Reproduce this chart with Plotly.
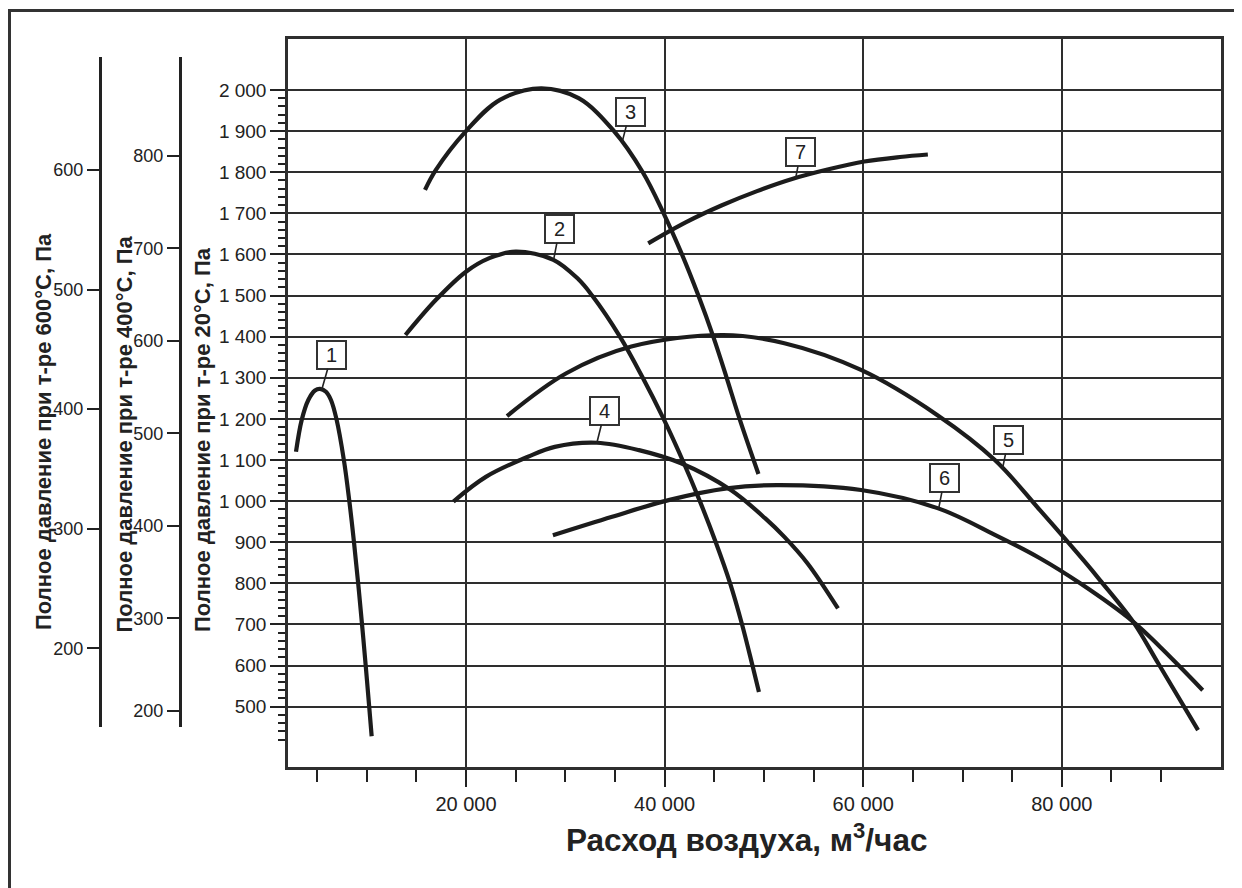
import numpy as np
import plotly.graph_objects as go

# ---------------- data ----------------
curve_names = ["1", "2", "3", "4", "5", "6", "7"]

x1 = [2880, 3450, 4120, 4790, 5300, 5900, 6400, 6950, 7700, 8250, 8720, 9140, 9530, 9900, 10250, 10500]
y1 = [1120, 1197, 1246, 1269, 1273, 1266, 1246, 1200, 1100, 1000, 900, 800, 700, 600, 500, 428]

x2 = [13900, 16950, 20000, 22350, 25000, 28800, 31300, 32700, 35500, 37800, 39900, 41800, 43550, 45150, 46600, 47800, 48850, 49500]
y2 = [1404, 1489, 1558, 1591, 1607, 1587, 1540, 1500, 1400, 1300, 1200, 1100, 1000, 900, 800, 700, 600, 536]

x3 = [15870, 16950, 20000, 23420, 27550, 31340, 34900, 37800, 39900, 41750, 43400, 44900, 46250, 47550, 49450]
y3 = [1757, 1805, 1900, 1976, 2004, 1980, 1900, 1800, 1700, 1600, 1500, 1400, 1300, 1200, 1066]

x4 = [18730, 22000, 26240, 28940, 33180, 37420, 41660, 46670, 50140, 52060, 54380, 57460]
y4 = [999, 1059, 1108, 1132, 1142, 1124, 1092, 1027, 958, 913, 849, 739]

x5 = [24130, 30100, 36650, 45900, 52060, 59780, 67480, 73260, 77800, 82330, 83840, 87170, 89720, 93720]
y5 = [1207, 1311, 1376, 1404, 1384, 1319, 1209, 1100, 978, 852, 808, 707, 605, 443]

x6 = [28750, 34720, 40500, 46280, 51300, 59780, 67480, 73260, 77800, 81850, 87170, 89880, 91900, 94190]
y6 = [917, 962, 1003, 1031, 1039, 1027, 983, 918, 861, 800, 707, 646, 597, 540]

x7 = [38350, 42120, 45720, 49310, 52920, 56510, 60110, 63700, 66510]
y7 = [1627, 1678, 1719, 1754, 1784, 1807, 1826, 1837, 1843]

curves_x = [x1, x2, x3, x4, x5, x6, x7]
curves_y = [y1, y2, y3, y4, y5, y6, y7]

# where the numbered label's leader line touches each curve (flow value)
label_x = [5470, 28820, 35710, 33180, 74030, 67600, 53200]
# box offset from that point, pixels
label_ax = [10, 6, 8, 8, 6, 6, 5]
label_ay = [-35, -31, -31, -32, -29, -31, -26]

# axes
x_range = [2074, 96032]
x_major = [20000, 40000, 60000, 80000]
x_minor = [v for v in range(5000, 95000, 5000) if v % 20000]
y_range = [353.3, 2124.0]
y_major = list(range(500, 2001, 100))
y_minor = [v for v in range(420, 2001, 20) if v % 100]
y400_range = [182.7, 907.4]
y400_ticks = [200, 300, 400, 500, 600, 700, 800]
y600_range = [134.4, 694.7]
y600_ticks = [200, 300, 400, 500, 600]

title_x = "Расход воздуха, м<sup>3</sup>/час"
title_20 = "Полное давление при т-ре 20°C, Па"
title_400 = "Полное давление при т-ре 400°C, Па"
title_600 = "Полное давление при т-ре 600°C, Па"


def fmt(v):
    return f"{v:,}".replace(",", " ")


# ---------------- figure ----------------
OFF = 8                      # page offset of the figure inside the browser window
W, H = 1234, 880
ML, MR, MT, MB = 12, 21, 31, 121
PW, PH = W - ML - MR, H - MT - MB


def px_x(p):                 # window pixel -> paper fraction
    return (p - OFF - ML) / PW


def px_y(p):
    return (H - MB - (p - OFF)) / PH


INK = "#222222"
LINE = "#2e2e2e"
FONT = "Liberation Sans, Arial, sans-serif"
NARROW = "Liberation Sans Narrow, Liberation Sans, Arial Narrow, sans-serif"

fig = go.Figure()

for xs, ys in zip(curves_x, curves_y):
    fig.add_trace(go.Scatter(
        x=xs, y=ys, mode="lines",
        line=dict(color="#1c1c1c", width=4.2, shape="spline", smoothing=1.0),
        showlegend=False, hoverinfo="skip",
    ))

# dummy traces to bring the auxiliary pressure scales to life
fig.add_trace(go.Scatter(x=[None], y=[None], xaxis="x2", yaxis="y2", showlegend=False, hoverinfo="skip"))
fig.add_trace(go.Scatter(x=[None], y=[None], xaxis="x3", yaxis="y3", showlegend=False, hoverinfo="skip"))

x_dom0 = px_x(288)
aux_dom = [px_y(726.7), px_y(56.7)]

fig.update_layout(
    width=W, height=H,
    margin=dict(l=ML, r=MR, t=MT, b=MB, autoexpand=False),
    paper_bgcolor="white",
    plot_bgcolor="rgba(0,0,0,0)",
    font=dict(family=FONT, color=INK),
    xaxis=dict(
        domain=[x_dom0, 1], range=x_range, anchor="y",
        tickmode="array", tickvals=x_major, ticktext=[fmt(v) for v in x_major],
        ticks="outside", ticklen=17, tickwidth=2, tickcolor=INK,
        tickfont=dict(size=20, family=FONT, color=INK),
        showgrid=True, gridcolor=LINE, gridwidth=2,
        showline=True, linecolor=LINE, linewidth=2.5, mirror=True,
        zeroline=False,
        minor=dict(tickmode="array", tickvals=x_minor, ticks="outside",
                   ticklen=12, tickwidth=2, tickcolor=INK, showgrid=False),
    ),
    yaxis=dict(
        domain=[0, 1], range=y_range, anchor="x",
        tickmode="array", tickvals=y_major, ticktext=[fmt(v) for v in y_major],
        ticks="outside", ticklen=15, tickwidth=2, tickcolor=INK,
        tickfont=dict(size=19, family=FONT, color=INK),
        showgrid=True, gridcolor=LINE, gridwidth=2,
        showline=True, linecolor=LINE, linewidth=2.5, mirror=True,
        zeroline=False,
        minor=dict(tickmode="array", tickvals=y_minor, ticks="outside",
                   ticklen=7, tickwidth=2, tickcolor=INK, showgrid=False),
    ),
    xaxis2=dict(domain=[0, 0.01], anchor="y2", visible=False, range=[0, 1]),
    xaxis3=dict(domain=[0.01, 0.02], anchor="y3", visible=False, range=[0, 1]),
    yaxis2=dict(
        domain=aux_dom, range=y400_range, anchor="free", position=px_x(180), side="left",
        tickmode="array", tickvals=y400_ticks, ticks="outside", ticklen=12, tickwidth=2,
        tickcolor=INK, tickfont=dict(size=18, family=NARROW, color=INK),
        showgrid=False, zeroline=False, showline=True, linecolor=INK, linewidth=3,
    ),
    yaxis3=dict(
        domain=aux_dom, range=y600_range, anchor="free", position=px_x(100), side="left",
        tickmode="array", tickvals=y600_ticks, ticks="outside", ticklen=12, tickwidth=2,
        tickcolor=INK, tickfont=dict(size=18, family=NARROW, color=INK),
        showgrid=False, zeroline=False, showline=True, linecolor=INK, linewidth=3,
    ),
    showlegend=False,
)

# outer frame of the figure (only left & top edges are in view)
fig.add_shape(type="rect", xref="paper", yref="paper",
              x0=px_x(9.5), x1=px_x(1300), y0=px_y(960), y1=px_y(10.5),
              line=dict(color="#333333", width=3), layer="above")

# axis titles
for txt, xp, yp in [(title_600, 43, 432), (title_400, 123.5, 434), (title_20, 202, 440)]:
    fig.add_annotation(text=f"<b>{txt}</b>", xref="paper", yref="paper",
                       x=px_x(xp), y=px_y(yp), xanchor="center", yanchor="middle",
                       textangle=-90, showarrow=False,
                       font=dict(size=22, family=FONT, color=INK))

fig.add_annotation(text=f"<b>{title_x}</b>", xref="paper", yref="paper",
                   x=px_x(746), y=px_y(838), xanchor="center", yanchor="middle",
                   showarrow=False, font=dict(size=31.5, family=NARROW, color=INK))

# numbered curve labels
for name, xs, ys, lx, ax, ay in zip(curve_names, curves_x, curves_y, label_x, label_ax, label_ay):
    ly = float(np.interp(lx, xs, ys))
    fig.add_annotation(x=lx, y=ly, xref="x", yref="y", text=name,
                       showarrow=True, arrowhead=0, arrowwidth=1.6, arrowcolor=INK,
                       ax=ax, ay=ay, standoff=0,
                       bgcolor="white", bordercolor="#333333", borderwidth=2, borderpad=0,
                       width=27, height=26,
                       font=dict(size=20, family=NARROW, color=INK))

fig.write_html("out.html")
